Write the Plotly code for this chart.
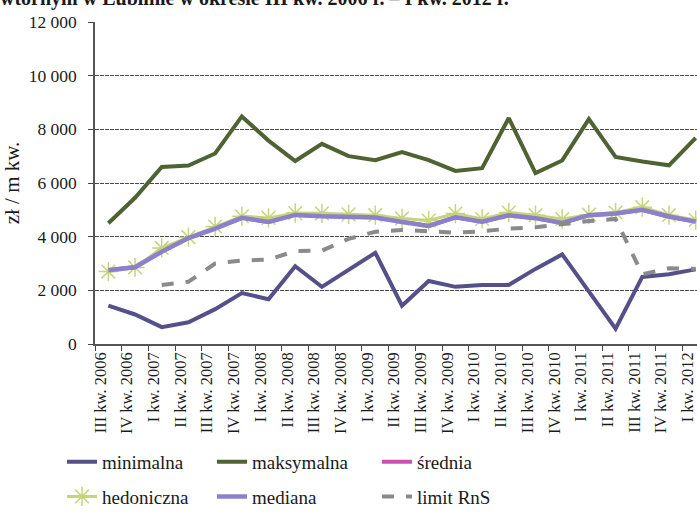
import plotly.graph_objects as go

categories = ["III kw. 2006", "IV kw. 2006",
              "I kw. 2007", "II kw. 2007", "III kw. 2007", "IV kw. 2007",
              "I kw. 2008", "II kw. 2008", "III kw. 2008", "IV kw. 2008",
              "I kw. 2009", "II kw. 2009", "III kw. 2009", "IV kw. 2009",
              "I kw. 2010", "II kw. 2010", "III kw. 2010", "IV kw. 2010",
              "I kw. 2011", "II kw. 2011", "III kw. 2011", "IV kw. 2011",
              "I kw. 2012"]

minimalna = [1430, 1100, 630, 810, 1300, 1900, 1670, 2900, 2130, 2780, 3400,
             1430, 2350, 2130, 2200, 2200, 2800, 3340, 1950, 570, 2500, 2600, 2780]
maksymalna = [4500, 5450, 6600, 6650, 7100, 8480, 7580, 6820, 7460, 7000, 6850,
              7150, 6850, 6450, 6550, 8420, 6370, 6840, 8380, 6970, 6800, 6660, 7680]
srednia = [2760, 2870, 3450, 3950, 4310, 4700, 4550, 4820, 4770, 4760, 4720,
           4560, 4400, 4720, 4560, 4800, 4690, 4510, 4800, 4860, 5000, 4740, 4560]
hedoniczna = [2700, 2850, 3580, 3980, 4380, 4760, 4700, 4880, 4870, 4830, 4800,
              4680, 4600, 4860, 4660, 4900, 4800, 4660, 4820, 4900, 5100, 4800, 4620]
mediana = [2750, 2860, 3440, 3950, 4300, 4700, 4550, 4810, 4760, 4750, 4710,
           4550, 4400, 4720, 4560, 4800, 4690, 4510, 4800, 4860, 5000, 4750, 4560]
limit_rns = [None, None, 2200, 2320, 3000, 3110, 3150, 3460, 3480, 3920, 4180,
             4250, 4200, 4150, 4200, 4300, 4350, 4480, 4580, 4660, 2600, 2820, 2800]

y_tickvals = [0, 2000, 4000, 6000, 8000, 10000, 12000]
y_ticktext = ["0", "2 000", "4 000", "6 000", "8 000", "10 000", "12 000"]

serif = "Liberation Serif, Times New Roman, serif"
txt = "#1a1a1a"

fig = go.Figure()
fig.add_trace(go.Scatter(x=categories, y=minimalna, name="minimalna", mode="lines",
                         legend="legend",
                         line=dict(color="#55508a", width=4)))
fig.add_trace(go.Scatter(x=categories, y=maksymalna, name="maksymalna", mode="lines",
                         legend="legend2",
                         line=dict(color="#4f6232", width=4)))
fig.add_trace(go.Scatter(x=categories, y=srednia, name="średnia", mode="lines",
                         legend="legend3",
                         line=dict(color="#cc4fb4", width=4)))
fig.add_trace(go.Scatter(x=categories, y=hedoniczna, name="hedoniczna", mode="lines+markers",
                         legend="legend4",
                         line=dict(color="#c6d47a", width=3),
                         marker=dict(symbol="asterisk-open", size=16,
                                     line=dict(color="#b8cc6a", width=1.5))))
fig.add_trace(go.Scatter(x=categories, y=mediana, name="mediana", mode="lines",
                         legend="legend5",
                         line=dict(color="#8c80cc", width=4.5)))
fig.add_trace(go.Scatter(x=categories, y=limit_rns, name="limit RnS", mode="lines",
                         legend="legend6",
                         line=dict(color="#8a8a8a", width=4, dash="dash")))

W, H = 697, 516
ML, MR, MT, MB = 95, 0, 22, 169
PW, PH = W - ML - MR, H - MT - MB


def lx(px):
    return (px - ML) / PW


def ly(py):
    return (H - MB - py) / PH


def legend_at(px, py):
    return dict(orientation="v", x=lx(px), xanchor="left", y=ly(py), yanchor="middle",
                font=dict(family=serif, size=19, color=txt), bgcolor="rgba(0,0,0,0)",
                itemwidth=30)


fig.update_layout(
    width=W, height=H,
    margin=dict(l=ML, r=MR, t=MT, b=MB),
    paper_bgcolor="white", plot_bgcolor="white",
    font=dict(family=serif, size=15, color=txt),
    showlegend=True,
    legend=legend_at(62, 466),
    legend2=legend_at(212, 466),
    legend3=legend_at(377, 466),
    legend4=legend_at(62, 501),
    legend5=legend_at(212, 501),
    legend6=legend_at(377, 501),
    annotations=[dict(text="<b>wtórnym w Lublinie w okresie III kw. 2006 r. – I kw. 2012 r.</b>",
                      xref="paper", yref="paper", x=lx(-2), y=ly(12),
                      xanchor="left", yanchor="bottom", showarrow=False,
                      font=dict(family=serif, size=20, color=txt))],
)
fig.update_xaxes(type="category", range=[-0.5, 22.05], tickson="boundaries",
                 ticks="outside", ticklen=5, tickcolor="#444", tickangle=-90,
                 ticklabelshift=-8,
                 showline=True, linecolor="#555", linewidth=1.5,
                 showgrid=False, tickfont=dict(family=serif, size=16.5, color=txt))
fig.update_yaxes(range=[0, 12000], tickvals=y_tickvals, ticktext=y_ticktext,
                 ticks="outside", ticklen=5, tickcolor="#444",
                 ticklabelstandoff=8,
                 showline=True, linecolor="#555", linewidth=1.5,
                 showgrid=True, gridcolor="#4a4a4a", gridwidth=1, griddash="4px,1px",
                 zeroline=False,
                 title=dict(text="zł / m kw.", standoff=6,
                            font=dict(family=serif, size=21, color=txt)),
                 tickfont=dict(family=serif, size=17.5, color=txt))

fig.write_html("out.html", post_script="document.body.style.margin='0';",
               config={"displayModeBar": False})
